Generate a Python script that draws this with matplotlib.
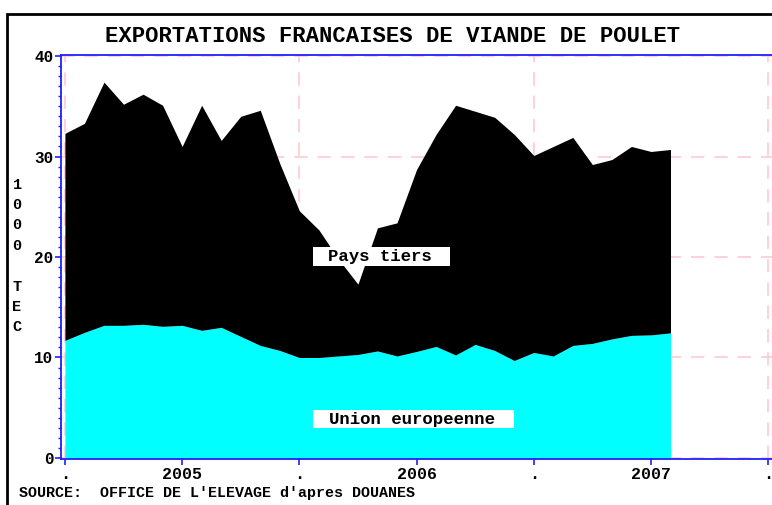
import numpy as np
import matplotlib
matplotlib.use('Agg')
import matplotlib.pyplot as plt
from matplotlib.patches import Rectangle
from matplotlib.ticker import MultipleLocator

# donnees mensuelles (1000 TEC), janvier 2005 -> aout 2007
mois = np.arange(32)
total = [32.3, 33.3, 37.4, 35.2, 36.2, 35.1, 31.0, 35.1, 31.6, 34.0, 34.6, 29.3,
         24.6, 22.7, 19.8, 17.3, 22.9, 23.4, 28.7, 32.2, 35.1, 34.5, 33.9, 32.2,
         30.1, 31.0, 31.9, 29.2, 29.7, 31.0, 30.5, 30.7]
union_europeenne = [11.7, 12.5, 13.2, 13.2, 13.3, 13.1, 13.2, 12.7, 13.0, 12.1, 11.2, 10.7,
                    10.0, 10.0, 10.15, 10.3, 10.65, 10.15, 10.6, 11.1, 10.25, 11.3, 10.7, 9.7,
                    10.5, 10.15, 11.2, 11.4, 11.85, 12.2, 12.25, 12.45]

x_ticks = [0, 6, 12, 18, 24, 30, 36]
x_labels = ['.', '2005', '.', '2006', '.', '2007', '.']
y_ticks = [0, 10, 20, 30, 40]

plt.rcParams['font.family'] = ['Liberation Mono', 'DejaVu Sans Mono']
plt.rcParams['font.weight'] = 'bold'

blue = '#2020FF'
pink = '#FFC8D2'

fig = plt.figure(figsize=(7.72, 5.05), dpi=100)
ax = fig.add_axes([61 / 772, 1 - 459 / 505, (776 - 61) / 772, 404 / 505])

# aires empilees
ax.fill_between(mois, 0, union_europeenne, color='#00FFFF', lw=0, zorder=2)
ax.fill_between(mois, union_europeenne, total, color='black', lw=0, zorder=2)

# grille rose en tirets
for xt, lab in zip(x_ticks, x_labels):
    if lab == '.':
        ax.axvline(xt, color=pink, lw=1.2, dashes=(8, 6), zorder=0)
for yt in y_ticks:
    ax.axhline(yt, color=pink, lw=1.2, dashes=(8, 6), zorder=0)

ax.set_xlim(-0.2, 36.4)
ax.set_ylim(-0.1, 40.1)
ax.set_xticks(x_ticks)
ax.set_xticklabels(x_labels, fontsize=12)
ax.set_yticks(y_ticks)
ax.set_yticklabels([str(v) for v in y_ticks], fontsize=11.5)
ax.yaxis.set_minor_locator(MultipleLocator(1))
ax.tick_params(axis='x', colors=blue, labelcolor='black', length=4, width=1.2, pad=1.5)
ax.tick_params(axis='y', which='major', colors=blue, labelcolor='black', length=4, width=1.2, pad=1.5)
ax.tick_params(axis='y', which='minor', colors=blue, length=2.5, width=1)
for s in ax.spines.values():
    s.set_color(blue)
    s.set_linewidth(1.3)

# etiquettes des aires
ax.add_patch(Rectangle((12.69, 19.1), 7.0, 1.9, facecolor='white', edgecolor='none', zorder=3))
ax.text(16.1, 20.05, 'Pays tiers', ha='center', va='center', fontsize=12.5, zorder=4)
ax.add_patch(Rectangle((12.69, 3.0), 10.28, 1.75, facecolor='white', edgecolor='none', zorder=3))
ax.text(17.75, 3.88, 'Union europeenne', ha='center', va='center', fontsize=12.5, zorder=4)

# titre, unite, source
fig.text(0.508, 1 - 37 / 505, 'EXPORTATIONS FRANCAISES DE VIANDE DE POULET',
         ha='center', va='center', fontsize=16)
fig.text(17 / 772, 1 - 256 / 505, '1\n0\n0\n0\n\nT\nE\nC', ha='center', va='center',
         fontsize=11, linespacing=1.58)
fig.text(19 / 772, 1 - 493 / 505, "SOURCE:  OFFICE DE L'ELEVAGE d'apres DOUANES",
         ha='left', va='center', fontsize=10.8)

# cadre noir
fig.add_artist(Rectangle((7 / 772, -0.1), 1.2, 1.1 - 14 / 505, transform=fig.transFigure,
                         fill=False, edgecolor='black', lw=2))

fig.savefig('out.png', dpi=100)
